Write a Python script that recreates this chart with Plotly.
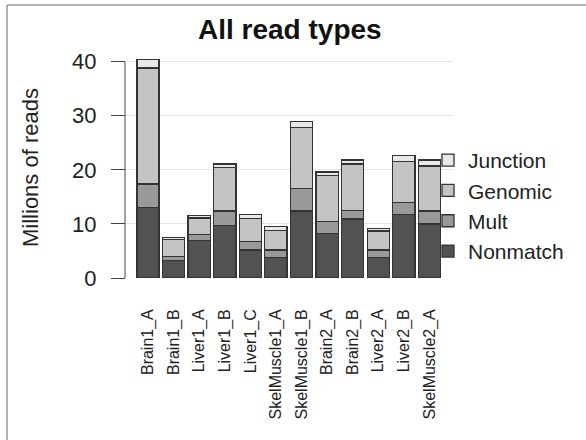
import plotly.graph_objects as go

# Samples and read counts (millions) per read type
samples = ["Brain1_A", "Brain1_B", "Liver1_A", "Liver1_B", "Liver1_C",
           "SkelMuscle1_A", "SkelMuscle1_B", "Brain2_A", "Brain2_B",
           "Liver2_A", "Liver2_B", "SkelMuscle2_A"]
nonmatch = [13.1, 3.25, 6.9, 9.7, 5.2, 3.8, 12.4, 8.2, 10.9, 3.8, 11.7, 10.0]
mult = [4.3, 0.75, 1.2, 2.7, 1.6, 1.4, 4.1, 2.3, 1.6, 1.4, 2.3, 2.4]
genomic = [21.45, 3.1, 3.0, 8.0, 4.2, 3.6, 11.3, 8.4, 8.6, 3.5, 7.5, 8.3]
junction = [1.5, 0.4, 0.5, 0.7, 0.7, 0.7, 1.2, 0.7, 0.7, 0.45, 1.1, 1.1]
y_ticks = [0, 10, 20, 30, 40]

FONT = "Liberation Sans, Arial, Helvetica, sans-serif"
series = [
    ("Nonmatch", nonmatch, "#525252"),
    ("Mult", mult, "#999999"),
    ("Genomic", genomic, "#c4c4c4"),
    ("Junction", junction, "#e8e8e8"),
]

# plot area geometry in pixels
L, R, T, B = 126, 133, 51, 162
PW, PH = 586 - L - R, 440 - T - B


def px_x(x):
    return (x - L) / PW


def px_y(y):
    return (440 - B - y) / PH


fig = go.Figure()
for name, vals, color in series:
    fig.add_trace(go.Bar(
        x=samples, y=vals, name=name,
        marker=dict(color=color, line=dict(color="#333333", width=1.3)),
    ))

fig.update_layout(
    width=586, height=440,
    barmode="stack", bargap=0.13,
    plot_bgcolor="white", paper_bgcolor="white",
    margin=dict(l=L, r=R, t=T, b=B, autoexpand=False),
    font=dict(family=FONT, color="#222222"),
    showlegend=True,
    legend=dict(
        traceorder="reversed",
        xref="container", yref="container",
        x=428 / 586, y=1 - 140 / 440, xanchor="left", yanchor="top",
        font=dict(size=21, family=FONT, color="#222222"),
        bgcolor="rgba(0,0,0,0)",
        tracegroupgap=0,
    ),
    xaxis=dict(
        range=[-0.86, 11.92],
        showgrid=False, zeroline=False, showline=False,
        ticks="", tickangle=-90, ticklabelstandoff=27,
        tickfont=dict(size=16, family=FONT, color="#222222"),
    ),
    yaxis=dict(
        range=[0, 41.98],
        tickvals=y_ticks,
        showgrid=True, gridcolor="#e4e4e4", gridwidth=1,
        zeroline=False, showline=False,
        ticks="outside", ticklen=14, tickcolor="#444444", tickwidth=1,
        ticklabelstandoff=10,
        tickfont=dict(size=22, family=FONT, color="#222222"),
    ),
    annotations=[
        dict(text="<b>All read types</b>", xref="paper", yref="paper",
             x=px_x(289.5), y=px_y(30), xanchor="center", yanchor="middle",
             showarrow=False, font=dict(size=28, family=FONT, color="#111111")),
        dict(text="Millions of reads", xref="paper", yref="paper",
             x=px_x(30), y=px_y(168), textangle=-90,
             xanchor="center", yanchor="middle", showarrow=False,
             font=dict(size=22, family=FONT, color="#222222")),
    ],
    shapes=[
        # value axis line spanning the tick range only
        dict(type="line", xref="paper", yref="y",
             x0=px_x(125), x1=px_x(125), y0=0, y1=40,
             line=dict(color="#444444", width=1)),
        # outer frame (left and top edges)
        dict(type="line", xref="paper", yref="paper",
             x0=px_x(7), x1=px_x(7), y0=px_y(460), y1=px_y(5),
             line=dict(color="#999999", width=1.5)),
        dict(type="line", xref="paper", yref="paper",
             x0=px_x(7), x1=px_x(600), y0=px_y(5), y1=px_y(5),
             line=dict(color="#999999", width=1.5)),
    ],
)

fig.write_html("out.html")
